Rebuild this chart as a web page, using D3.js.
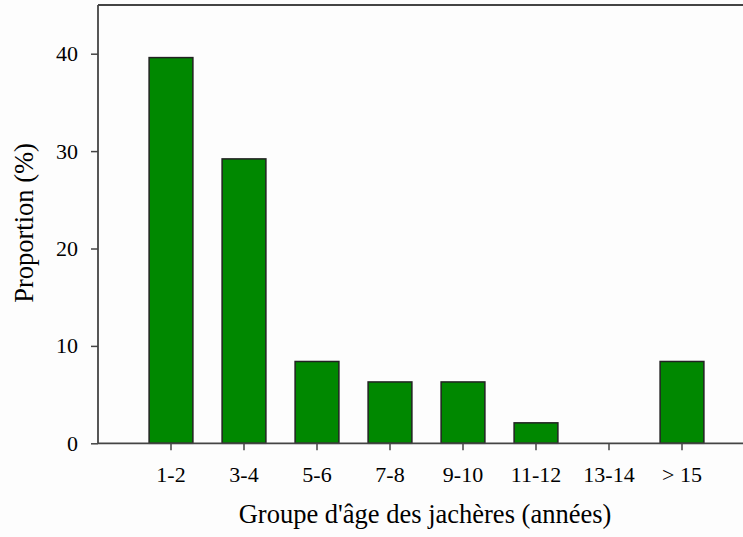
<!DOCTYPE html>
<html><head><meta charset="utf-8">
<script src="https://cdn.jsdelivr.net/npm/d3@7"></script>
<style>html,body{margin:0;padding:0;background:#fdfdfd;overflow:hidden}</style>
</head><body>
<svg id="c" width="743" height="537"></svg>
<script>
const categories = ["1-2","3-4","5-6","7-8","9-10","11-12","13-14","> 15"];
const values = [39.6, 29.2, 8.4, 6.3, 6.3, 2.1, 0, 8.4];
const yTicks = [0, 10, 20, 30, 40];

(function(){
const svg = d3.select("#c");
const pL = 98, pR = 755, pT = 5, pB = 443.3;
const x = d3.scaleBand().domain(categories).range([pL, pR]).paddingInner(0.4).paddingOuter(0.7);
const y = d3.scaleLinear().domain([0, 45]).range([pB, pT]);
const font = "Liberation Serif, Times New Roman, serif";
const axisCol = "#444";

// bars
svg.append("g").selectAll("rect").data(values.map((v,i)=>({c:categories[i], v})).filter(d => d.v > 0)).join("rect")
  .attr("x", d => x(d.c))
  .attr("y", d => y(d.v))
  .attr("width", x.bandwidth())
  .attr("height", d => y(0) - y(d.v))
  .attr("fill", "#008800")
  .attr("stroke", "#222")
  .attr("stroke-width", 1.5);

// top border
svg.append("line").attr("x1", pL).attr("x2", 743).attr("y1", pT).attr("y2", pT)
  .attr("stroke", axisCol).attr("stroke-width", 1.8);

// y axis
const ya = svg.append("g").attr("transform", `translate(${pL},0)`)
  .call(d3.axisLeft(y).tickValues(yTicks).tickSize(7).tickPadding(13).tickSizeOuter(0));
ya.select(".domain").remove();
ya.append("line").attr("x1",0).attr("x2",0).attr("y1",pT).attr("y2",pB).attr("stroke",axisCol).attr("stroke-width",1.8);
ya.selectAll(".tick line").attr("stroke", axisCol).attr("stroke-width", 1.5);
ya.selectAll(".tick text").attr("font-family", font).attr("font-size", 22).attr("fill", "#000");

// x axis
const xa = svg.append("g").attr("transform", `translate(0,${pB})`)
  .call(d3.axisBottom(x).tickSize(7).tickPadding(16).tickSizeOuter(0));
xa.select(".domain").remove();
xa.append("line").attr("x1",pL).attr("x2",pR).attr("y1",0).attr("y2",0).attr("stroke",axisCol).attr("stroke-width",1.8);
xa.selectAll(".tick line").attr("stroke", axisCol).attr("stroke-width", 1.5);
xa.selectAll(".tick text").attr("font-family", font).attr("font-size", 22).attr("fill", "#000");

// titles
svg.append("text").attr("x", 425).attr("y", 523).attr("text-anchor", "middle")
  .attr("font-family", font).attr("font-size", 26.5).attr("fill", "#000")
  .text("Groupe d'âge des jachères (années)");
svg.append("text").attr("transform", "translate(33,223) rotate(-90)").attr("text-anchor", "middle")
  .attr("font-family", font).attr("font-size", 26.5).attr("fill", "#000")
  .text("Proportion (%)");
})();
</script>
</body></html>
